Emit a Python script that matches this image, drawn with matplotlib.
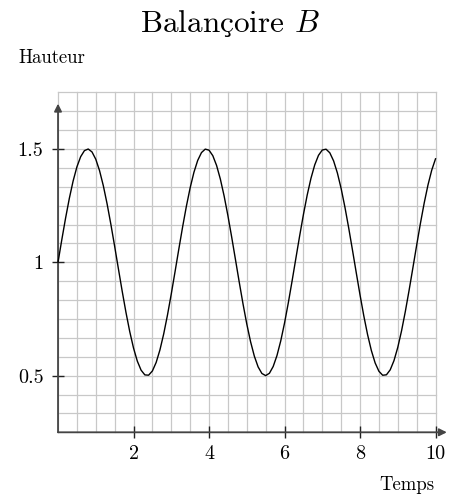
import numpy as np
import matplotlib
matplotlib.use("Agg")
import matplotlib.pyplot as plt

plt.rcParams["font.family"] = ["cmr10", "DejaVu Serif"]
plt.rcParams["mathtext.fontset"] = "cm"
plt.rcParams["axes.unicode_minus"] = False

# Time samples (every 0.1) and swing height
temps = [round(0.1 * k, 1) for k in range(101)]
hauteur = [
    1.0000, 1.0994, 1.1947, 1.2823, 1.3587, 1.4208, 1.4660, 1.4927, 1.4998, 1.4869,
    1.4547, 1.4043, 1.3378, 1.2578, 1.1675, 1.0706, 0.9708, 0.8723, 0.7788, 0.6941,
    0.6216, 0.5642, 0.5242, 0.5032, 0.5019, 0.5206, 0.5583, 0.6136, 0.6844, 0.7677,
    0.8603, 0.9585, 1.0583, 1.1558, 1.2471, 1.3285, 1.3969, 1.4494, 1.4840, 1.4993,
    1.4947, 1.4704, 1.4273, 1.3672, 1.2925, 1.2061, 1.1115, 1.0124, 0.9129, 0.8168,
    0.7280, 0.6501, 0.5861, 0.5386, 0.5096, 0.5000, 0.5104, 0.5404, 0.5886, 0.6533,
    0.7317, 0.8209, 0.9172, 1.0168, 1.1158, 1.2101, 1.2961, 1.3702, 1.4296, 1.4719,
    1.4953, 1.4990, 1.4829, 1.4474, 1.3942, 1.3252, 1.2432, 1.1516, 1.0539, 0.9541,
    0.8561, 0.7638, 0.6810, 0.6109, 0.5562, 0.5193, 0.5016, 0.5037, 0.5256, 0.5664,
    0.6245, 0.6976, 0.7827, 0.8765, 0.9752, 1.0749, 1.1717, 1.2615, 1.3410, 1.4068,
    1.4565,
]

xticks = [2, 4, 6, 8, 10]
xtick_labels = ["2", "4", "6", "8", "10"]
yticks = [0.5, 1.0, 1.5]
ytick_labels = ["0.5", "1", "1.5"]

xmin, xmax = 0, 10
ymin, ymax = 0.25, 1.75

fig = plt.figure(figsize=(4.54, 4.97), dpi=100)
ax = fig.add_axes([0.1278, 0.1302, 0.8315, 0.6841])
ax.set_xlim(xmin, xmax)
ax.set_ylim(ymin, ymax)

grid_color = "#c8c8c8"
axis_color = "#444444"

# background grid: every 0.5 in time, every 1/12 in height
for gx in np.arange(xmin, xmax + 1e-9, 0.5):
    ax.plot([gx, gx], [ymin, ymax], color=grid_color, lw=0.9, zorder=1, clip_on=False)
for gy in np.linspace(ymin, ymax, 19):
    ax.plot([xmin, xmax], [gy, gy], color=grid_color, lw=0.9, zorder=1, clip_on=False)

for s in ax.spines.values():
    s.set_visible(False)

# axes with arrowheads
arrow = dict(arrowstyle="-|>", color=axis_color, lw=1.3, mutation_scale=11,
             shrinkA=0, shrinkB=0)
ax.annotate("", xy=(10.3, ymin), xytext=(xmin, ymin), arrowprops=arrow,
            annotation_clip=False, zorder=3)
ax.annotate("", xy=(xmin, 1.70), xytext=(xmin, ymin), arrowprops=arrow,
            annotation_clip=False, zorder=3)

ax.plot(temps, hauteur, color="black", lw=1.0, zorder=4, clip_on=False)

ax.set_xticks(xticks)
ax.set_xticklabels(xtick_labels)
ax.set_yticks(yticks)
ax.set_yticklabels(ytick_labels)
ax.tick_params(direction="inout", length=9, width=1.0, color="#222222",
               labelsize=14.5, pad=5)
ax.tick_params(axis="y", pad=6)

# Title: cmr10 has no precomposed "ç", so the cedilla is added under the "c"
title_size = 22.5
title_x, title_y = 0.507, 0.936
title = fig.text(title_x, title_y, r"Balancoire $B$", ha="center", va="baseline",
                 fontsize=title_size)
fig.canvas.draw()
renderer = fig.canvas.get_renderer()
tb = title.get_window_extent(renderer)
probe1 = fig.text(0, 0, "Balan", fontsize=title_size)
probe2 = fig.text(0, 0, "Balanc", fontsize=title_size)
w1 = probe1.get_window_extent(renderer).width
w2 = probe2.get_window_extent(renderer).width
probe1.remove()
probe2.remove()
c_center_px = tb.x0 + (w1 + w2) / 2.0
fig.text(c_center_px / fig.bbox.width, title_y, "\u00b8", ha="center", va="baseline",
         fontsize=title_size * 0.9, family="DejaVu Serif")

fig.text(0.040, 0.873, "Hauteur", ha="left", va="baseline", fontsize=13.5)
fig.text(0.958, 0.015, "Temps", ha="right", va="baseline", fontsize=13.5)

fig.savefig("out.png", dpi=100)
